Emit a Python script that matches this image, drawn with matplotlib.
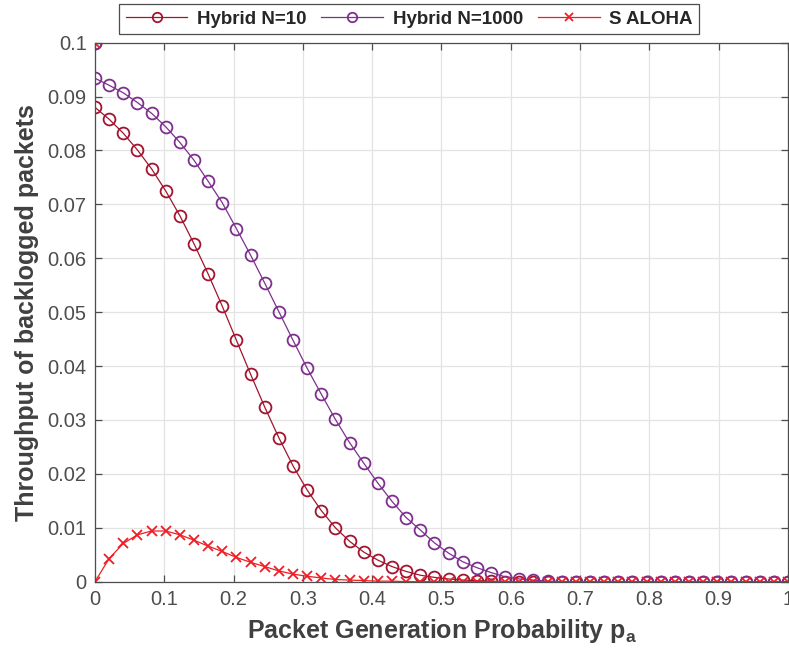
import numpy as np
import matplotlib.pyplot as plt

plt.rcParams['font.family'] = ['Liberation Sans', 'DejaVu Sans']
plt.rcParams['mathtext.fontset'] = 'custom'
plt.rcParams['mathtext.bf'] = 'Liberation Sans:bold'
plt.rcParams['mathtext.rm'] = 'Liberation Sans'

# packet generation probability (50 samples on [0, 1]); the first point is a
# duplicated p=0 start value shared by all curves
p_a = [0.0] + list(np.linspace(0, 1, 50))

hybrid_n10 = [
    0.1,
    0.0880, 0.0858, 0.0832, 0.0801, 0.0766, 0.0725, 0.0679, 0.0627, 0.0571, 0.0511,
    0.0448, 0.0385, 0.0324, 0.0267, 0.0215, 0.0170, 0.0132, 0.0100, 0.0075, 0.0055,
    0.0040, 0.0028, 0.0019, 0.0012, 0.0008, 0.0005, 0.0003, 0.0002, 0.0001, 0.0,
    0.0, 0.0, 0.0, 0.0, 0.0, 0.0, 0.0, 0.0, 0.0, 0.0,
    0.0, 0.0, 0.0, 0.0, 0.0, 0.0, 0.0, 0.0, 0.0, 0.0,
]

hybrid_n1000 = [
    0.1,
    0.0934, 0.0921, 0.0907, 0.0889, 0.0869, 0.0844, 0.0815, 0.0782, 0.0743, 0.0703,
    0.0655, 0.0606, 0.0554, 0.0501, 0.0448, 0.0396, 0.0348, 0.0301, 0.0258, 0.0220,
    0.0183, 0.0149, 0.0119, 0.0096, 0.0072, 0.0053, 0.0037, 0.0026, 0.0017, 0.0009,
    0.0005, 0.0003, 0.0001, 0.0, 0.0, 0.0, 0.0, 0.0, 0.0, 0.0,
    0.0, 0.0, 0.0, 0.0, 0.0, 0.0, 0.0, 0.0, 0.0, 0.0,
]

s_aloha = [
    0.1,
    0.0, 0.0043, 0.0071, 0.0087, 0.0094, 0.0094, 0.0087, 0.0077, 0.0066, 0.0056,
    0.0045, 0.0036, 0.0028, 0.0020, 0.0014, 0.0010, 0.0007, 0.0004, 0.0003, 0.0002,
    0.0001, 0.0001, 0.0, 0.0, 0.0, 0.0, 0.0, 0.0, 0.0, 0.0,
    0.0, 0.0, 0.0, 0.0, 0.0, 0.0, 0.0, 0.0, 0.0, 0.0,
    0.0, 0.0, 0.0, 0.0, 0.0, 0.0, 0.0, 0.0, 0.0, 0.0,
]

fig = plt.figure(figsize=(7.89, 6.61), dpi=100)
ax = fig.add_axes([0.1204, 0.12, 0.8783, 0.8154])

ax.plot(p_a, hybrid_n10, color='#A2142F', marker='o', markersize=8.5,
        markerfacecolor='none', markeredgewidth=1.3, linewidth=0.9, label='Hybrid N=10')
ax.plot(p_a, hybrid_n1000, color='#7E2F8E', marker='o', markersize=8.5,
        markerfacecolor='none', markeredgewidth=1.3, linewidth=0.9, label='Hybrid N=1000')
ax.plot(p_a, s_aloha, color='#F01E24', marker='x', markersize=7,
        markeredgewidth=1.3, linewidth=0.9, label='S ALOHA')

ax.set_xlim(0, 1)
ax.set_ylim(0, 0.1)
ax.set_xticks(np.arange(0, 1.01, 0.1))
ax.set_xticklabels(['0', '0.1', '0.2', '0.3', '0.4', '0.5', '0.6', '0.7', '0.8', '0.9', '1'])
ax.set_yticks(np.arange(0, 0.101, 0.01))
ax.set_yticklabels(['0', '0.01', '0.02', '0.03', '0.04', '0.05', '0.06', '0.07', '0.08', '0.09', '0.1'])
ax.grid(True, color='#E3E3E3', linewidth=0.9)
ax.set_axisbelow(True)

ax.tick_params(direction='in', top=True, right=True, length=5, width=0.9,
               colors='#4D4D4D', labelsize=14.5, pad=6)
for s in ax.spines.values():
    s.set_color('#4D4D4D')
    s.set_linewidth(0.9)

ax.set_xlabel(r'Packet Generation Probability $\mathbf{p_a}$', fontsize=18,
              fontweight='bold', color='#404040', labelpad=6)
ax.set_ylabel('Throughput of backlogged packets', fontsize=18,
              fontweight='bold', color='#404040', labelpad=6)

leg = fig.legend(loc='upper left', bbox_to_anchor=(119 / 789, 1 - 4 / 661), ncol=3,
                 fancybox=False, edgecolor='#4D4D4D', framealpha=1, handlelength=3.3,
                 columnspacing=0.8, borderpad=0.35, handletextpad=0.5, borderaxespad=0,
                 prop={'weight': 'bold', 'size': 13.5}, markerscale=0.8)
leg.get_frame().set_linewidth(0.9)
for t in leg.get_texts():
    t.set_color('#262626')

fig.savefig('out.png', dpi=100)
